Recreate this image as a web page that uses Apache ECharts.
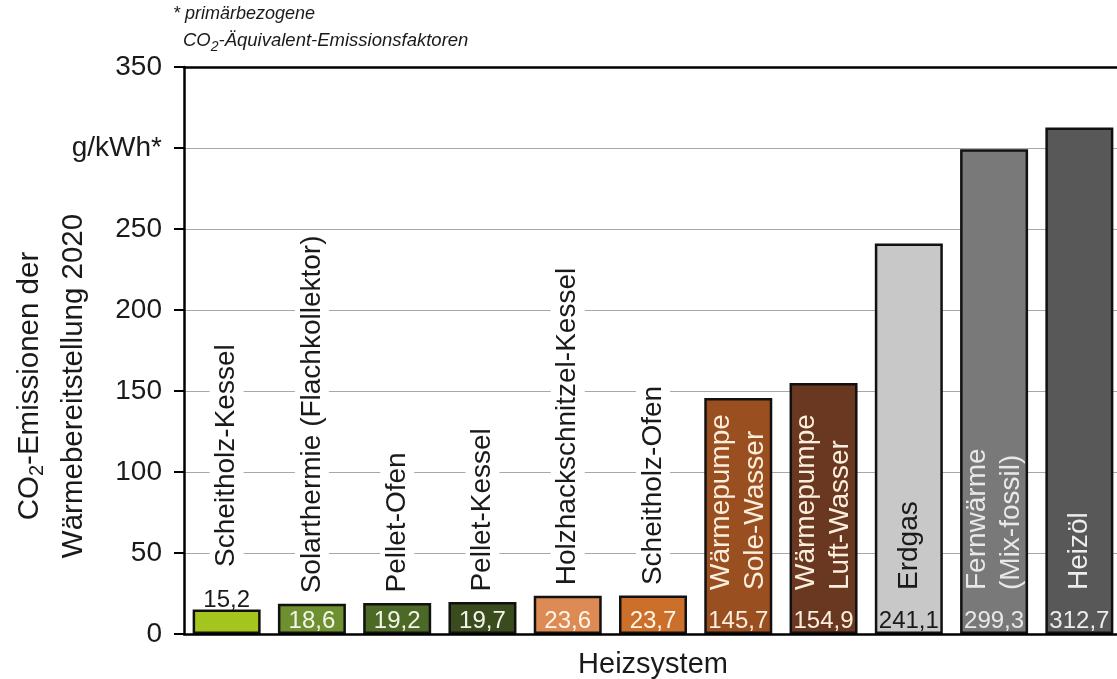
<!DOCTYPE html>
<html lang="de">
<head>
<meta charset="utf-8">
<title>CO2-Emissionen der Wärmebereitstellung 2020</title>
<script src="https://cdn.jsdelivr.net/npm/echarts@6/dist/echarts.min.js"></script>
<style>
  html, body { margin: 0; padding: 0; background: #fff; }
  #chart { width: 1117px; height: 679px; }
</style>
</head>
<body>
<div id="chart"></div>
<script>
// Heizsysteme (Kategorien) und CO2-Äquivalent-Emissionen in g/kWh
const categories = [
  'Scheitholz-Kessel',
  'Solarthermie (Flachkollektor)',
  'Pellet-Ofen',
  'Pellet-Kessel',
  'Holzhackschnitzel-Kessel',
  'Scheitholz-Ofen',
  'Wärmepumpe\nSole-Wasser',
  'Wärmepumpe\nLuft-Wasser',
  'Erdgas',
  'Fernwärme\n(Mix-fossil)',
  'Heizöl'
];
const emissions = [15.2, 18.6, 19.2, 19.7, 23.6, 23.7, 145.7, 154.9, 241.1, 299.3, 312.7];
const yTickLabels = ['0', '50', '100', '150', '200', '250', 'g/kWh*', '350'];

// Füllfarben der Balken und Schriftfarbe für Text auf dem Balken
const barColors = ['#a4c41e', '#6e9030', '#4c6a25', '#3a4b1e', '#dd8a54', '#cc6f2a',
                   '#9a4f20', '#6a3820', '#c8c8c8', '#797979', '#585858'];
const inkOnBar  = ['#1a1a1a', '#f4f4ea', '#f4f4ea', '#f4f4ea', '#fff6ea', '#fff6ea',
                   '#fbeedd', '#fbeedd', '#1a1a1a', '#e8e8e8', '#ececec'];

const FONT = '"Liberation Sans", Arial, Helvetica, sans-serif';
const fmt = v => v.toFixed(1).replace('.', ',');

// Niedrige Balken: Name steht über dem Balken, sonst im Balken
const nameInsideMin = 100;
// Sehr niedrige Balken: Wert steht über dem Balken
const valueOutsideMax = 16;
const isNameInside = v => v >= nameInsideMin;
const isValueOutside = v => v < valueOutsideMax;

const chart = echarts.init(document.getElementById('chart'));

const option = {
  animation: false,
  backgroundColor: '#ffffff',
  textStyle: { fontFamily: FONT },
  grid: { left: 184, top: 67, width: 938, height: 567, outerBoundsMode: 'none', containLabel: false },
  xAxis: [{
    type: 'category',
    data: categories,
    z: 10,
    name: 'Heizsystem',
    nameLocation: 'middle',
    nameGap: 16,
    nameTextStyle: { fontSize: 29, color: '#1a1a1a', fontFamily: FONT, verticalAlign: 'top' },
    axisLine: { show: true, lineStyle: { color: '#000', width: 2.5 } },
    axisTick: { show: false },
    splitLine: { show: false },
    axisLabel: {
      inside: true,
      rotate: 90,
      interval: 0,
      margin: 44,
      fontFamily: FONT,
      fontSize: 28,
      formatter: function (value, idx) {
        if (!isNameInside(emissions[idx])) return '';
        return '{on' + idx + '|' + value + '}';
      },
      rich: (function () {
        const r = {};
        inkOnBar.forEach((c, i) => {
          r['on' + i] = { fontSize: 28, lineHeight: 34, color: c, fontFamily: FONT };
        });
        return r;
      })()
    }
  }, {
    type: 'category',
    data: categories,
    position: 'top',
    axisLine: { show: true, lineStyle: { color: '#000', width: 2.5 } },
    axisTick: { show: false },
    axisLabel: { show: false },
    splitLine: { show: false }
  }],
  yAxis: {
    type: 'value',
    min: 0,
    max: 350,
    interval: 50,
    axisLine: { show: true, lineStyle: { color: '#000', width: 2.5 } },
    axisTick: { show: true, length: 10, lineStyle: { color: '#000', width: 2 } },
    axisLabel: {
      margin: 22,
      fontSize: 28,
      color: '#1a1a1a',
      fontFamily: FONT,
      formatter: v => yTickLabels[Math.round(v / 50)]
    },
    splitLine: { show: true, showMaxLine: false, lineStyle: { color: '#a8a8a8', width: 1.2 } }
  },
  series: [{
    type: 'bar',
    xAxisIndex: 0,
    barWidth: 68,
    data: emissions.map((v, i) => {
      const outside = isValueOutside(v);
      return {
        value: v,
        itemStyle: { color: barColors[i], borderColor: '#111', borderWidth: 2.5 },
        label: {
          show: true,
          position: outside ? 'top' : 'insideBottom',
          distance: outside ? -3 : 1,
          color: outside ? '#1a1a1a' : inkOnBar[i],
          fontSize: 24,
          fontFamily: FONT,
          formatter: p => fmt(p.value)
        }
      };
    })
  }, {
    // Namen der niedrigen Balken, senkrecht über dem Balken
    type: 'scatter',
    xAxisIndex: 0,
    symbolSize: 1,
    itemStyle: { color: 'rgba(0,0,0,0)', opacity: 1 },
    silent: true,
    z: 5,
    data: emissions.map((v, i) => isNameInside(v) ? '-' : {
      value: v,
      label: {
        show: true,
        position: 'top',
        distance: isValueOutside(v) ? 42 : 10,
        rotate: 90,
        align: 'left',
        verticalAlign: 'middle',
        fontSize: 28,
        lineHeight: 28,
        fontFamily: FONT,
        color: '#1a1a1a',
        opacity: 1,
        backgroundColor: '#ffffff',
        padding: [3, 0, 3, 0],
        formatter: () => categories[i]
      }
    })
  }],
  graphic: [
    {
      type: 'text',
      x: 173, y: 14,
      style: {
        text: '* primärbezogene',
        font: 'italic 18px ' + FONT,
        fill: '#1a1a1a',
        verticalAlign: 'middle'
      }
    },
    {
      type: 'text',
      x: 183, y: 39,
      style: {
        text: '{m|CO}{s|2}{m|-Äquivalent-Emissionsfaktoren}',
        verticalAlign: 'middle',
        rich: {
          m: { font: 'italic 18.5px ' + FONT, fill: '#1a1a1a', lineHeight: 22, verticalAlign: 'bottom' },
          s: { font: 'italic 14px ' + FONT, fill: '#1a1a1a', lineHeight: 16, verticalAlign: 'bottom',
               padding: [0, 0, -4, 0] }
        }
      }
    },
    {
      type: 'text',
      x: 45, y: 386,
      rotation: Math.PI / 2,
      style: {
        text: '{m|CO}{s|2}{m|-Emissionen der}\n{m|Wärmebereitstellung 2020}',
        align: 'center',
        verticalAlign: 'middle',
        rich: {
          m: { font: '29.5px ' + FONT, fill: '#1a1a1a', lineHeight: 44, verticalAlign: 'bottom', align: 'center' },
          s: { font: '20px ' + FONT, fill: '#1a1a1a', lineHeight: 30, verticalAlign: 'bottom', align: 'center',
               padding: [0, 0, -2, 0] }
        }
      }
    }
  ]
};

chart.setOption(option);
</script>
</body>
</html>
